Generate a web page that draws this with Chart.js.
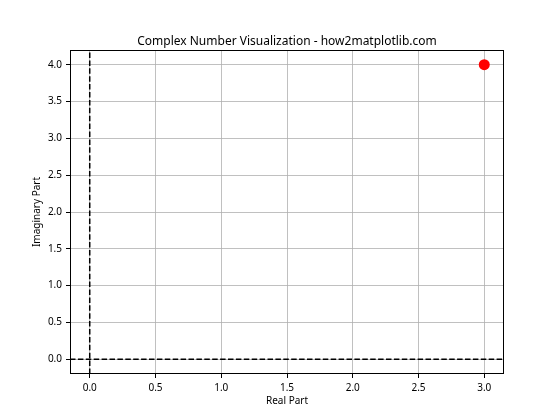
<!DOCTYPE html>
<html>
<head>
<meta charset="utf-8">
<script src="https://cdn.jsdelivr.net/npm/chart.js@4"></script>
<style>
html,body{margin:0;padding:0;background:#fff;}
#wrap{width:560px;height:420px;}
</style>
</head>
<body>
<div id="wrap"><canvas id="c" width="560" height="420"></canvas></div>
<script>
const realParts = [3];
const imagParts = [4];
const xTickValues = [0, 0.5, 1.0, 1.5, 2.0, 2.5, 3.0];
const yTickValues = [0, 0.5, 1.0, 1.5, 2.0, 2.5, 3.0, 3.5, 4.0];
const xLimits = [-0.15, 3.15];
const yLimits = [-0.2, 4.2];
const titleText = 'Complex Number Visualization - how2matplotlib.com';
const xLabel = 'Real Part';
const yLabel = 'Imaginary Part';

const FONT = '"Noto Sans", "DejaVu Sans", sans-serif';
Chart.defaults.font.family = FONT;
Chart.defaults.color = '#000';

const points = realParts.map((r, i) => ({x: r, y: imagParts[i]}));

const frame = {
  id: 'frame',
  afterDraw(chart) {
    const {ctx, chartArea: a} = chart;
    const l = Math.round(a.left), t = Math.round(a.top);
    const r = Math.round(a.right), b = Math.round(a.bottom);
    ctx.save();
    ctx.strokeStyle = '#000';
    ctx.lineWidth = 1;
    ctx.strokeRect(l + 0.5, t + 0.5, r - l - 1, b - t - 1);
    ctx.restore();
  }
};

new Chart(document.getElementById('c'), {
  type: 'scatter',
  data: {
    datasets: [
      {
        type: 'line',
        data: [{x: 0, y: yLimits[0]}, {x: 0, y: yLimits[1]}],
        borderColor: '#000', borderWidth: 1.5, borderDash: [5.5, 2.4],
        pointRadius: 0, fill: false, order: 2
      },
      {
        type: 'line',
        data: [{x: xLimits[0], y: 0}, {x: xLimits[1], y: 0}],
        borderColor: '#000', borderWidth: 1.5, borderDash: [5.5, 2.4],
        pointRadius: 0, fill: false, order: 2
      },
      {
        type: 'scatter',
        data: points,
        backgroundColor: '#ff0000', borderColor: '#ff0000',
        pointRadius: 5.5, borderWidth: 0, order: 1
      }
    ]
  },
  options: {
    responsive: false,
    animation: false,
    layout: {padding: {left: 0, right: 56, top: 0, bottom: 0}},
    plugins: {
      legend: {display: false},
      tooltip: {enabled: false},
      title: {
        display: true, text: titleText, fullSize: false,
        font: {size: 12, weight: 'normal'}, color: '#000',
        padding: {top: 34, bottom: 1.6}
      }
    },
    scales: {
      x: {
        type: 'linear', min: xLimits[0], max: xLimits[1],
        afterBuildTicks: s => { s.ticks = xTickValues.map(v => ({value: v})); },
        afterFit: s => { s.height = 46; },
        ticks: {
          font: {size: 10}, color: '#000', padding: 4, maxRotation: 0, autoSkip: false,
          callback: v => Number(v).toFixed(1)
        },
        grid: {color: '#b0b0b0', lineWidth: 0.8, tickColor: '#000', tickLength: 4, tickWidth: 1},
        border: {display: false},
        title: {display: true, text: xLabel, font: {size: 10}, color: '#000', padding: {top: 13, bottom: 13}}
      },
      y: {
        type: 'linear', min: yLimits[0], max: yLimits[1],
        afterBuildTicks: s => { s.ticks = yTickValues.map(v => ({value: v})); },
        afterFit: s => { s.width = 70; },
        ticks: {
          font: {size: 10}, color: '#000', padding: 4, autoSkip: false,
          callback: v => Number(v).toFixed(1)
        },
        grid: {color: '#b0b0b0', lineWidth: 0.8, tickColor: '#000', tickLength: 4, tickWidth: 1},
        border: {display: false},
        title: {display: true, text: yLabel, font: {size: 10}, color: '#000', padding: {top: 31, bottom: 31}}
      }
    }
  },
  plugins: [frame]
});
</script>
</body>
</html>
